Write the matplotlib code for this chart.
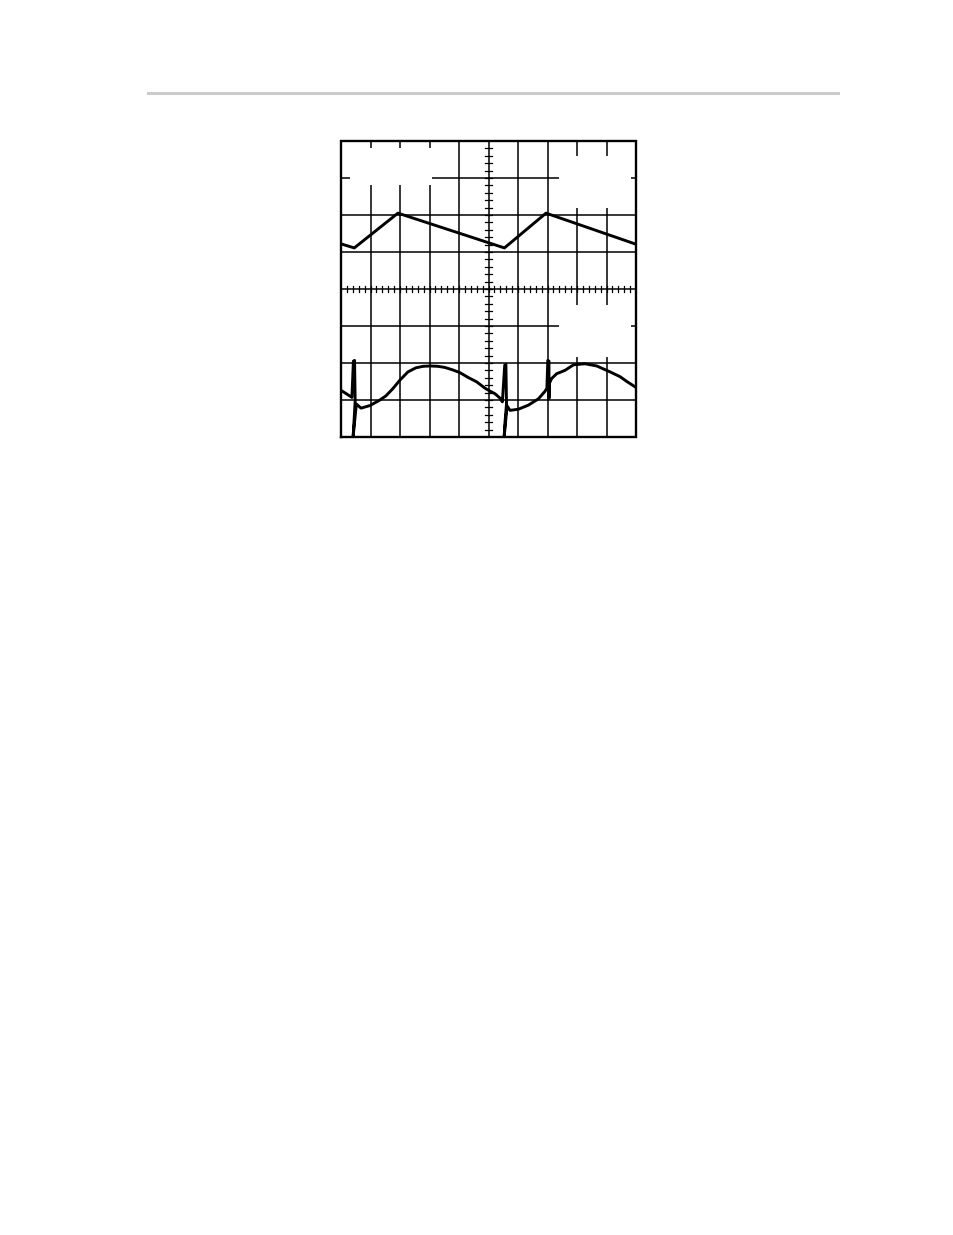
import matplotlib
matplotlib.use("Agg")
import matplotlib.pyplot as plt
from matplotlib.lines import Line2D
from matplotlib.patches import Rectangle

# --- scope screen: 10 x 8 divisions, origin at screen centre ---
x_divs = list(range(0, 11))
y_divs = list(range(-4, 5))

# upper trace (triangle ramp), in divisions
upper_x = [0.0, 0.45, 1.93, 5.54, 6.95, 10.0]
upper_y = [1.22, 1.11, 2.05, 1.11, 2.05, 1.21]

# lower trace (with switching spikes), in divisions
lower_x = [0.0, 0.20, 0.37, 0.42, 0.46, 0.48, 0.44, 0.41, 0.52, 0.68, 0.98,
           1.30, 1.52, 1.75, 2.00, 2.27, 2.54, 2.78, 3.02, 3.29, 3.52, 3.80,
           4.03, 4.31, 4.60, 4.88, 5.05, 5.22, 5.39, 5.47, 5.55, 5.59, 5.61,
           5.56, 5.53, 5.63, 5.73, 6.01, 6.35, 6.69, 6.92, 6.98, 7.01, 7.05,
           7.05, 7.07, 7.14, 7.31, 7.59, 7.88, 8.27, 8.67, 9.12, 9.46, 9.69,
           10.0]
lower_y = [-2.74, -2.84, -2.93, -1.95, -1.93, -3.03, -3.60, -4.00, -3.11,
           -3.22, -3.15, -3.01, -2.89, -2.70, -2.46, -2.24, -2.13, -2.09,
           -2.08, -2.09, -2.12, -2.19, -2.26, -2.39, -2.51, -2.68, -2.76,
           -2.83, -2.95, -3.05, -2.06, -2.04, -3.11, -3.60, -4.00, -3.16,
           -3.28, -3.25, -3.14, -2.97, -2.76, -2.68, -1.93, -1.95, -2.96,
           -2.54, -2.42, -2.29, -2.20, -2.05, -2.02, -2.08, -2.24, -2.37,
           -2.50, -2.66]

# blank patches where the scope annotations were (x0, y0, width, height)
blank_boxes = [(0.29, 2.81, 2.81, 0.99),
               (7.40, 2.19, 2.43, 1.40),
               (7.39, -1.84, 2.44, 1.41)]

W, H, DPI = 954, 1235, 100
fig = plt.figure(figsize=(W / DPI, H / DPI), dpi=DPI)

# grey rule at the top of the page
fig.add_artist(Line2D([148 / W, 838 / W], [1 - 92.5 / H] * 2,
                      color='#cbcbcb', linewidth=2.2))

ax = fig.add_axes([341 / W, 1 - 437 / H, 295 / W, 296 / H])
ax.set_xlim(0, 10)
ax.set_ylim(-4, 4)
ax.axis('off')

# --- graticule ---
for xv in x_divs[1:-1]:
    ax.plot([xv, xv], [-4, 4], color='black', linewidth=1.1, zorder=1)
for yv in y_divs[1:-1]:
    ax.plot([0, 10], [yv, yv], color='black', linewidth=1.1, zorder=1)

for (bx, by, bw, bh) in blank_boxes:
    ax.add_patch(Rectangle((bx, by), bw, bh, facecolor='white',
                           edgecolor='none', zorder=2))

# minor ticks on the centre axes
for i in range(1, 50):
    t = i * 0.2
    ax.plot([t, t], [-0.09, 0.09], color='black', linewidth=0.9, zorder=3)
for i in range(1, 40):
    t = -4 + i * 0.2
    ax.plot([4.89, 5.11], [t, t], color='black', linewidth=0.9, zorder=3)

# outer frame
ax.plot([0, 10, 10, 0, 0], [-4, -4, 4, 4, -4], color='black',
        linewidth=1.7, clip_on=False, zorder=4, solid_joinstyle='miter')

# --- traces ---
ax.plot(upper_x, upper_y, color='black', linewidth=2.1, zorder=5,
        solid_joinstyle='round')
ax.plot(lower_x, lower_y, color='black', linewidth=2.1, zorder=5,
        solid_joinstyle='round', solid_capstyle='round')

fig.savefig('out.png', dpi=DPI)
